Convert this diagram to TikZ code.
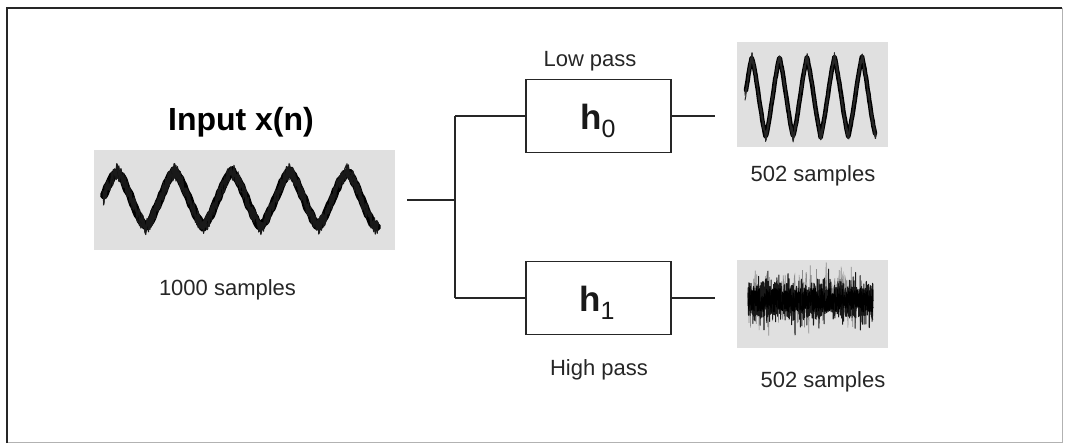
\documentclass[tikz,border=0pt]{standalone}
\usepackage{fontspec}
\setmainfont{Liberation Sans}
\begin{document}
\begin{tikzpicture}[x=1pt,y=-1pt,
  wire/.style={line width=1.6pt, black!85},
  filt/.style={draw, line width=1.6pt, black!85, minimum width=145pt, minimum height=73pt, inner sep=0pt},
  plate/.style={fill=black!12, inner sep=0pt},
  lbl/.style={font=\fontsize{22}{26}\selectfont, anchor=base, text=black!85},
  hlbl/.style={anchor=base, inner sep=0pt, text=black!90},
  trace/.style={line width=1.1pt, black!90, line join=round},
  declare function={
    wavin(\t)=0.45*sin(6.26087*(\t-102.6))+0.55*asin(sin(6.26087*(\t-102.6)))/90;
    wavlp(\t)=0.3*sin(13.0909*(\t-745.1))+0.7*asin(sin(13.0909*(\t-745.1)))/90;
  }]
\useasboundingbox (0,0) rectangle (1065,446);
\pgfmathsetseed{12345}
% frame
\draw[black!30, line width=1pt] (1062,8) -- (1062,442) -- (7,442);
\draw[line width=1.8pt, black!85] (7,443) -- (7,8) -- (1062,8);
% input
\node[font=\fontsize{32}{36}\selectfont\bfseries, anchor=base] (title) at (241,131) {Input x(n)};
\node[plate, minimum width=301pt, minimum height=100pt] (inp) at (244.5,200) {};
\draw[line width=8pt, line join=round, line cap=round] plot[domain=104:377, samples=180] (\x,{199-28*wavin(\x)+1.5*rand});
\foreach \k in {1,...,3}{
  \draw[trace] plot[domain=103:378, samples=400] (\x,{199-28*wavin(\x)+8.5*rand});
}
\node[lbl] (n1000) at (227.5,295) {1000 samples};
% filters
\node[filt] (h0) at (598.5,116) {};
\node[filt] (h1) at (598.5,298) {};
\node[hlbl] (h0t) at (598,130) {{\fontsize{35}{40}\selectfont\bfseries h}\raisebox{-8pt}{\fontsize{25}{30}\selectfont 0}};
\node[hlbl] (h1t) at (597,312) {{\fontsize{35}{40}\selectfont\bfseries h}\raisebox{-8pt}{\fontsize{25}{30}\selectfont 1}};
\node[lbl] (lp) at (590,67) {Low pass};
\node[lbl] (hp) at (599,375) {High pass};
% connectors
\coordinate (ins) at (407,200);
\coordinate (split) at (455,200);
\coordinate (o0) at (715,116);
\coordinate (o1) at (715,298);
\draw[wire] (ins) -- (split);
\draw[wire] (split |- h0.west) -- (split |- h1.west);
\draw[wire] (split |- h0.west) -- (h0.west);
\draw[wire] (split |- h1.west) -- (h1.west);
\draw[wire] (h0.east) -- (o0);
\draw[wire] (h1.east) -- (o1);
% low pass output
\node[plate, minimum width=151pt, minimum height=105pt] (lpo) at (812.5,94.5) {};
\draw[line width=4.5pt, line join=round, line cap=round] plot[domain=746:875, samples=160] (\x,{97-40*wavlp(\x)+1*rand});
\foreach \k in {1,...,3}{
  \draw[line width=1pt, black!85, line join=round] plot[domain=745:876, samples=300] (\x,{97-40*wavlp(\x)+5*rand});
}
\node[lbl] (n502a) at (813,182) {502 samples};
% high pass output
\node[plate, minimum width=151pt, minimum height=88pt] (hpo) at (812.5,304) {};
\draw[line width=0.6pt, black!45] plot[domain=748:873, samples=260] (\x,{299+38*rand*rand});
\draw[line width=1pt, black!90, line join=round] plot[domain=748:873, samples=900] (\x,{300+17*rand+28*rand*rand*rand});
\draw[line width=1pt, black, line join=round] plot[domain=748:873, samples=600] (\x,{300+12*rand});
\node[lbl] (n502b) at (823,387) {502 samples};
\end{tikzpicture}
\end{document}
